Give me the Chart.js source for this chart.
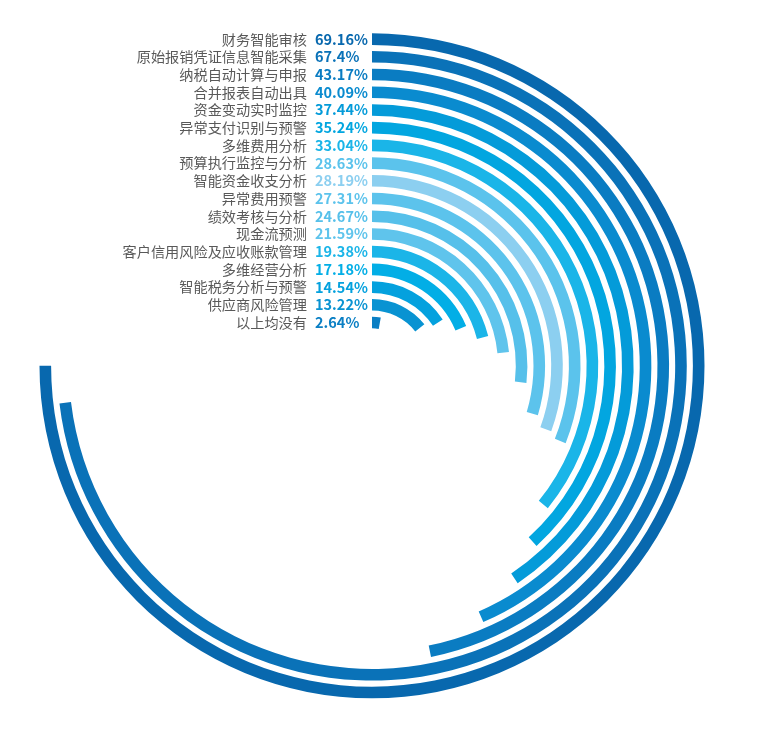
<!DOCTYPE html>
<html>
<head>
<meta charset="utf-8">
<script src="https://cdn.jsdelivr.net/npm/chart.js@4.4.0/dist/chart.umd.min.js"></script>
<style>
  body { margin: 0; background: #fff; }
  #wrap { width: 757px; height: 730px; }
</style>
</head>
<body>
<div id="wrap"><canvas id="myChart" width="757" height="730"></canvas></div>
<script>
var categories = ['财务智能审核', '原始报销凭证信息智能采集', '纳税自动计算与申报', '合并报表自动出具',
    '资金变动实时监控', '异常支付识别与预警', '多维费用分析', '预算执行监控与分析', '智能资金收支分析',
    '异常费用预警', '绩效考核与分析', '现金流预测', '客户信用风险及应收账款管理', '多维经营分析',
    '智能税务分析与预警', '供应商风险管理', '以上均没有'];
var values = [69.16, 67.4, 43.17, 40.09, 37.44, 35.24, 33.04, 28.63, 28.19,
    27.31, 24.67, 21.59, 19.38, 17.18, 14.54, 13.22, 2.64];
var valueLabels = ['69.16%', '67.4%', '43.17%', '40.09%', '37.44%', '35.24%', '33.04%', '28.63%', '28.19%',
    '27.31%', '24.67%', '21.59%', '19.38%', '17.18%', '14.54%', '13.22%', '2.64%'];
var colors = ['#0868ae', '#0a72b8', '#0a7cc2', '#0a8bcf', '#049bd9', '#02a6e0', '#1ab5e8', '#5bc3ec', '#8ccff0',
    '#5cc3ec', '#56c0ea', '#5fc4ec', '#1bb5e8', '#02aee6', '#04a1de', '#0993d2', '#0a7fc4'];
// value shown as a full 3/4 turn
var axisMax = 92.21;

var ringWeight = 11.6;
var gapWeight = 6.1;

var datasets = [];
var ringIndex = [];
for (var i = 0; i < values.length; i++) {
    ringIndex.push(datasets.length);
    datasets.push({
        data: [values[i], axisMax - values[i]],
        backgroundColor: [colors[i], 'rgba(0,0,0,0)'],
        borderWidth: 0,
        hoverBorderWidth: 0,
        hoverOffset: 0,
        weight: ringWeight
    });
    if (i < values.length - 1) {
        datasets.push({
            data: [axisMax],
            backgroundColor: ['rgba(0,0,0,0)'],
            borderWidth: 0,
            hoverBorderWidth: 0,
            hoverOffset: 0,
            weight: gapWeight
        });
    }
}

var labelPlugin = {
    id: 'ringLabels',
    afterDraw: function(chart) {
        var c = chart.ctx;
        c.save();
        c.textBaseline = 'middle';
        for (var i = 0; i < values.length; i++) {
            var arc = chart.getDatasetMeta(ringIndex[i]).data[0];
            var y = arc.y - (arc.innerRadius + arc.outerRadius) / 2;
            c.font = '14.2px "Noto Sans CJK SC", "Noto Sans", sans-serif';
            c.fillStyle = '#595959';
            c.textAlign = 'right';
            c.fillText(categories[i], arc.x - 65, y);
            c.font = 'bold 14.5px "Noto Sans CJK SC", "Noto Sans", sans-serif';
            c.fillStyle = colors[i];
            c.textAlign = 'left';
            c.fillText(valueLabels[i], arc.x - 57, y);
        }
        c.restore();
    }
};

var ctx = document.getElementById('myChart').getContext('2d');
var myChart = new Chart(ctx, {
    type: 'doughnut',
    data: {
        labels: ['value', 'rest'],
        datasets: datasets
    },
    options: {
        responsive: false,
        animation: false,
        events: [],
        cutout: 37.5,
        layout: {
            padding: {
                left: 0,
                right: 13,
                top: 33.3,
                bottom: 31.7
            }
        },
        plugins: {
            legend: { display: false },
            tooltip: { enabled: false },
            title: { display: false }
        }
    },
    plugins: [labelPlugin]
});
</script>
</body>
</html>
